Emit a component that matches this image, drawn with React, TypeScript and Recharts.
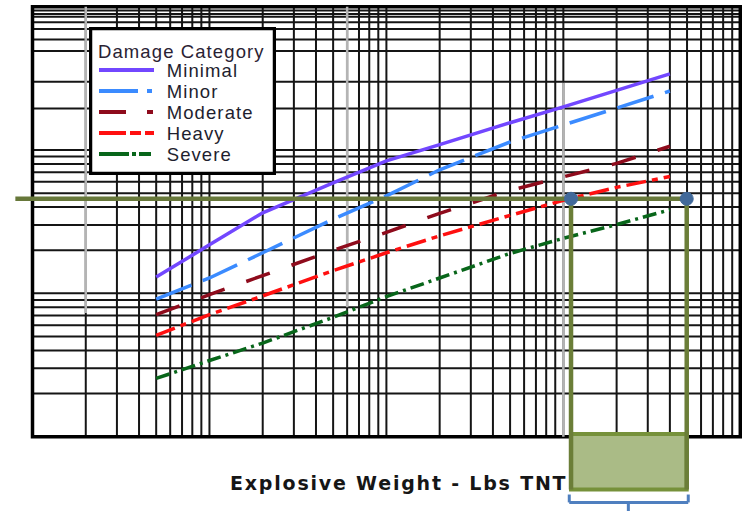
import {
  LineChart, Line, XAxis, YAxis, CartesianGrid,
  ReferenceLine, ReferenceArea, ReferenceDot, Legend,
} from "recharts";

// explosive weight (lbs TNT) at which the curves were read
const weights = [5, 10, 20, 50, 100, 200, 500, 1000, 2000, 4000];

// standoff for each damage category
const minimal = [130, 218, 365, 590, 840, 1090, 1550, 2000, 2610, 3400];
const minor = [91, 128, 192, 329, 479, 728, 1138, 1495, 1960, 2580];
const moderate = [71, 98, 133, 200, 266, 362, 523, 650, 807, 1063];
const heavy = [51, 71, 96, 144, 192, 252, 350, 446, 549, 654];
const severe = [25.5, 34, 45, 68, 95, 128, 190, 242, 302, 383];

// log-paper grid lines
const gridWeights = [
  2, 3, 4, 5, 6, 7, 8, 9,
  10, 20, 30, 40, 50, 60, 70, 80, 90,
  100, 200, 300, 400, 500, 600, 700, 800, 900,
  1000, 2000, 3000, 4000, 5000, 6000, 7000, 8000, 9000,
];
const gridStandoff = [
  20, 30, 40, 50, 60, 70, 80, 90,
  100, 200, 300, 400, 500, 600, 700, 800, 900,
  1000, 1950, 3000, 4900, 5900, 7000, 7800, 8500, 8900, 9400,
];

// hand-drawn annotation: standoff line, weight range box
const markStandoff = 457;
const markWeights = [1105, 4980];
const boxBottom = 4.28;
const boxTop = 10.44;

const SERIES = [
  { key: "minimal", label: "Minimal", color: "#7247ff", dash: undefined, legendDash: undefined },
  { key: "minor", label: "Minor", color: "#3b8bff", dash: "38 12", legendDash: "39 9 5 20" },
  { key: "moderate", label: "Moderate", color: "#8e0b1c", dash: "25 23", legendDash: "27 21 6 20" },
  { key: "heavy", label: "Heavy", color: "#ff1010", dash: "20 6 6 6", legendDash: "27 4 11 4 11 10" },
  { key: "severe", label: "Severe", color: "#08661a", dash: "14 5 3 5", legendDash: "30 3 4 3 12 10" },
];

const data = weights.map((w, i) => ({
  w,
  minimal: minimal[i],
  minor: minor[i],
  moderate: moderate[i],
  heavy: heavy[i],
  severe: severe[i],
}));

const FONT = "'Liberation Sans', Arial, sans-serif";
const NoTick = () => <g />;

const DamageLegend = () => (
  <svg width={187} height={148} style={{ display: "block" }}>
    <rect x={1.5} y={1.5} width={184} height={145} fill="#fff" stroke="#000" strokeWidth={3.5} />
    <text x={9} y={30.7} fontFamily={FONT} fontSize={18.5} letterSpacing={1.1} fill="#2a2233">
      Damage Category
    </text>
    {SERIES.map((s, i) => {
      const base = 50.3 + i * 21;
      return (
        <g key={s.key}>
          <line
            x1={10} x2={65} y1={base - 7.3} y2={base - 7.3}
            stroke={s.color} strokeWidth={4} strokeDasharray={s.legendDash}
          />
          <text x={77.7} y={base} fontFamily={FONT} fontSize={18.5} letterSpacing={1.1} fill="#1e1e2e">
            {s.label}
          </text>
        </g>
      );
    })}
  </svg>
);

export default function App() {
  return (
    <div style={{ position: "absolute", left: 0, top: 0, width: 742, height: 511, background: "#fff" }}>
      <LineChart
        width={742}
        height={511}
        data={data}
        margin={{ top: 6.7, right: 1.7, bottom: 74.3, left: 32.5 }}
      >
        <XAxis
          dataKey="w" type="number" scale="log" domain={[1, 10000]}
          ticks={gridWeights} interval={0} allowDataOverflow
          tick={NoTick} tickLine={false} axisLine={false} height={0}
        />
        <YAxis
          type="number" scale="log" domain={[10, 10000]}
          ticks={gridStandoff} interval={0} allowDataOverflow
          tick={NoTick} tickLine={false} axisLine={false} width={0}
        />
        <CartesianGrid stroke="#151515" strokeWidth={2} strokeOpacity={1} />

        {/* lighter rules on the scanned paper */}
        <ReferenceLine segment={[{ x: 2, y: 10000 }, { x: 2, y: 73 }]} stroke="#b4b4b4" strokeWidth={2.5} ifOverflow="visible" />
        <ReferenceLine segment={[{ x: 60, y: 10000 }, { x: 60, y: 80 }]} stroke="#b4b4b4" strokeWidth={2.5} ifOverflow="visible" />
        <ReferenceLine segment={[{ x: 1000, y: 2944 }, { x: 1000, y: 10 }]} stroke="#b4b4b4" strokeWidth={2.5} ifOverflow="visible" />

        <ReferenceArea x1={1} x2={10000} y1={10} y2={10000} fill="none" fillOpacity={0} stroke="#000" strokeWidth={3.5} ifOverflow="visible" />

        {SERIES.map((s) => (
          <Line
            key={s.key}
            dataKey={s.key}
            type="linear"
            stroke={s.color}
            strokeWidth={3.5}
            strokeDasharray={s.dash}
            dot={false}
            activeDot={false}
            isAnimationActive={false}
          />
        ))}

        {/* annotation overlay */}
        <ReferenceArea
          x1={markWeights[0]} x2={markWeights[1]} y1={boxBottom} y2={boxTop}
          fill="#aabb86" fillOpacity={1} stroke="#76913a" strokeWidth={4} ifOverflow="visible"
        />
        <ReferenceLine segment={[{ x: 0.8, y: markStandoff }, { x: markWeights[1], y: markStandoff }]} stroke="#67783a" strokeWidth={4.5} ifOverflow="visible" />
        <ReferenceLine segment={[{ x: markWeights[0], y: markStandoff }, { x: markWeights[0], y: boxBottom }]} stroke="#6b7e38" strokeWidth={4.5} ifOverflow="visible" />
        <ReferenceLine segment={[{ x: markWeights[1], y: markStandoff }, { x: markWeights[1], y: boxBottom }]} stroke="#6b7e38" strokeWidth={4.5} ifOverflow="visible" />
        <ReferenceDot x={markWeights[0]} y={markStandoff} r={6.5} fill="#41699a" stroke="#41699a" ifOverflow="visible" />
        <ReferenceDot x={markWeights[1]} y={markStandoff} r={6.5} fill="#41699a" stroke="#41699a" ifOverflow="visible" />

        {/* bracket under the box */}
        <ReferenceLine segment={[{ x: 1080, y: 3.48 }, { x: 5080, y: 3.48 }]} stroke="#4f7fbf" strokeWidth={3} ifOverflow="visible" />
        <ReferenceLine segment={[{ x: 1080, y: 3.95 }, { x: 1080, y: 3.48 }]} stroke="#4f7fbf" strokeWidth={3} ifOverflow="visible" />
        <ReferenceLine segment={[{ x: 5080, y: 3.95 }, { x: 5080, y: 3.48 }]} stroke="#4f7fbf" strokeWidth={3} ifOverflow="visible" />
        <ReferenceLine segment={[{ x: 2330, y: 3.48 }, { x: 2330, y: 2.8 }]} stroke="#4f7fbf" strokeWidth={3} ifOverflow="visible" />

        <Legend
          layout="vertical"
          align="center"
          verticalAlign="middle"
          content={() => <DamageLegend />}
          wrapperStyle={{ left: 89, top: 27, width: 187, height: 148 }}
        />
      </LineChart>

      <svg
        width={742}
        height={511}
        style={{ position: "absolute", left: 0, top: 0, pointerEvents: "none" }}
      >
        <text
          x={230} y={490}
          fontFamily="'DejaVu Sans', Verdana, sans-serif"
          fontWeight={700} fontSize={19} letterSpacing={1.8} fill="#161616"
        >
          Explosive Weight - Lbs TNT
        </text>
      </svg>
    </div>
  );
}
